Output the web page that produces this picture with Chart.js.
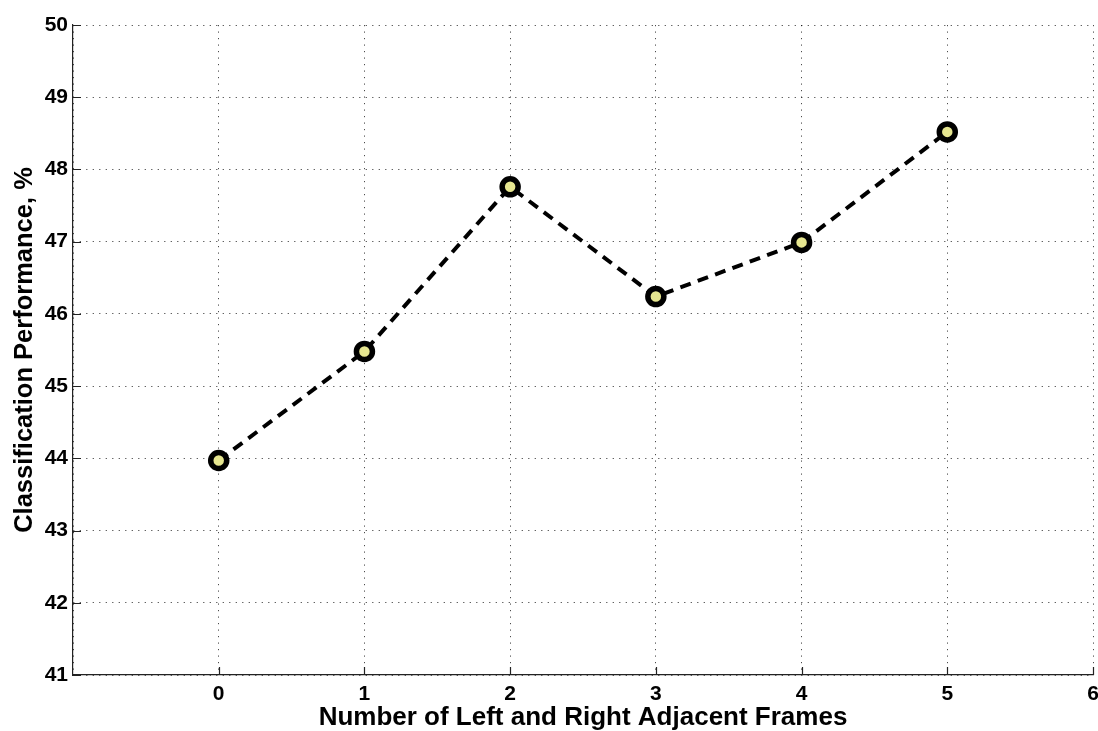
<!DOCTYPE html>
<html>
<head>
<meta charset="utf-8">
<script src="https://cdn.jsdelivr.net/npm/chart.js@4/dist/chart.umd.min.js"></script>
<style>
  html, body { margin: 0; padding: 0; background: #fff; overflow: hidden; }
  canvas { display: block; }
</style>
</head>
<body>
<canvas id="c" width="1098" height="731"></canvas>
<script>
// Adjacent-frame count vs. classification accuracy
const frames = [0, 1, 2, 3, 4, 5];
const performance = [43.97, 45.48, 47.76, 46.24, 46.99, 48.52];
const xTicks = [0, 1, 2, 3, 4, 5, 6];
const yTicks = [41, 42, 43, 44, 45, 46, 47, 48, 49, 50];

const FONT = '"Liberation Sans", Arial, Helvetica, sans-serif';
const RIGHT_MARGIN = 5;

// let the plot area run right up to the edge (the last tick label may overhang)
const fitRight = {
  id: 'fitRight',
  afterLayout(chart) {
    const target = chart.width - RIGHT_MARGIN;
    const area = chart.chartArea;
    const x = chart.scales.x;
    area.right = target;
    area.width = target - area.left;
    x.right = target;
    x.width = target - x.left;
    x.configure();
  }
};

// short inward tick marks along the left and bottom axes
const inwardTicks = {
  id: 'inwardTicks',
  afterDatasetsDraw(chart) {
    const { ctx, chartArea, scales } = chart;
    ctx.save();
    ctx.strokeStyle = '#222';
    ctx.lineWidth = 1.2;
    ctx.beginPath();
    xTicks.forEach(v => {
      const px = Math.round(scales.x.getPixelForValue(v)) + 0.5;
      ctx.moveTo(px, chartArea.bottom);
      ctx.lineTo(px, chartArea.bottom - 8);
    });
    yTicks.forEach(v => {
      const py = Math.round(scales.y.getPixelForValue(v)) + 0.5;
      ctx.moveTo(chartArea.left, py);
      ctx.lineTo(chartArea.left + 8, py);
    });
    ctx.stroke();
    ctx.restore();
  }
};

new Chart(document.getElementById('c'), {
  type: 'line',
  data: {
    datasets: [{
      data: frames.map((f, i) => ({ x: f, y: performance[i] })),
      borderColor: '#000',
      borderWidth: 4,
      borderDash: [11, 7.5],
      borderCapStyle: 'butt',
      tension: 0,
      fill: false,
      pointRadius: 8,
      pointHoverRadius: 8,
      pointBorderWidth: 5.5,
      pointBorderColor: '#000',
      pointBackgroundColor: '#e6e690'
    }]
  },
  options: {
    responsive: false,
    animation: false,
    events: [],
    layout: { padding: { top: 25, right: 0, left: 0, bottom: 0 } },
    plugins: { legend: { display: false }, tooltip: { enabled: false } },
    scales: {
      x: {
        type: 'linear',
        min: -1,
        max: 6,
        afterBuildTicks(scale) {
          scale.ticks = [-1].concat(xTicks).map(v => ({ value: v }));
        },
        afterFit(scale) {
          scale.height = 56;
        },
        ticks: {
          color: '#000',
          padding: 0,
          maxRotation: 0,
          autoSkip: false,
          font: { family: FONT, size: 21, weight: 'bold' },
          callback: v => (xTicks.includes(v) ? String(v) : '')
        },
        grid: {
          drawTicks: true,
          tickLength: 7,
          tickColor: 'rgba(0,0,0,0)',
          color: 'rgba(0,0,0,0.7)',
          lineWidth: 1
        },
        border: { display: true, color: '#222', width: 1.2, dash: [1.2, 5.3] },
        title: {
          display: true,
          text: 'Number of Left and Right Adjacent Frames',
          color: '#000',
          font: { family: FONT, size: 26, weight: 'bold', lineHeight: 1.0 },
          padding: { top: 0, bottom: 0 }
        }
      },
      y: {
        type: 'linear',
        min: 41,
        max: 50,
        afterBuildTicks(scale) {
          scale.ticks = yTicks.map(v => ({ value: v }));
        },
        afterFit(scale) {
          scale.width = 73;
        },
        ticks: {
          color: '#000',
          padding: 5,
          font: { family: FONT, size: 21, weight: 'bold' },
          callback: v => String(v)
        },
        grid: {
          drawTicks: false,
          color: 'rgba(0,0,0,0.7)',
          lineWidth: 1
        },
        border: { display: true, color: '#222', width: 1.2, dash: [1.2, 5.3] },
        title: {
          display: true,
          text: 'Classification Performance, %',
          color: '#000',
          font: { family: FONT, size: 25.5, weight: 'bold', lineHeight: 1.2 },
          padding: { top: 10, bottom: 0 }
        }
      }
    }
  },
  plugins: [fitRight, inwardTicks]
});
</script>
</body>
</html>
